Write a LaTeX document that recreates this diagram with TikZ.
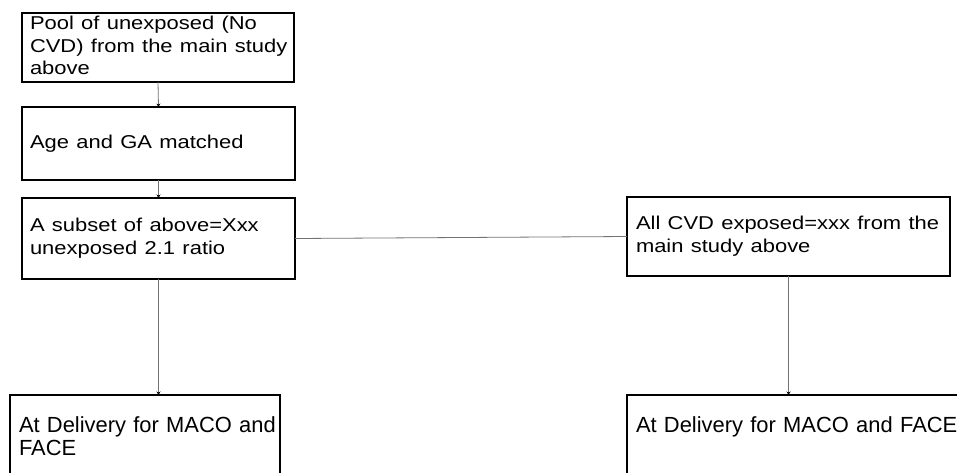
\documentclass[tikz,border=0pt]{standalone}
\usepackage{fontspec}
\usepackage{graphicx}
\setmainfont{Liberation Sans}
\usetikzlibrary{arrows.meta}
% box text: lines kept as in the chart, widened a little
\newcommand{\boxlines}[2]{\scalebox{#1}[1]{\begin{tabular}[t]{@{}l@{}}#2\end{tabular}}}

\begin{document}
\begin{tikzpicture}[x=1pt,y=1pt]
            \tikzstyle{every node}+=[anchor=north west, outer sep=0pt]
            \tikzstyle{upbox}=[draw=black, line width=1.6pt, inner xsep=8pt, inner ysep=0pt, align=left, font=\fontsize{18.6}{22.7}\selectfont]
            \tikzstyle{lowbox}=[draw=black, line width=1.6pt, inner xsep=9pt, inner ysep=21pt, text depth=80pt, align=left, font=\fontsize{21.9}{23}\selectfont]
            \tikzstyle{link}=[draw=black!55, line width=0.8pt]
            \clip (0,0) rectangle (957,-472);
            \node [upbox, text width=256, minimum height=69] (pool) at (22,-13) {\boxlines{1.18}{Pool of unexposed (No\\CVD) from the main study\\above}};
            \node [upbox, text width=257, minimum height=73] (matched) at (22,-107) {\boxlines{1.18}{Age and GA matched}};
            \node [upbox, text width=257, minimum height=81] (subset) at (22,-198) {\boxlines{1.18}{A subset of above=Xxx\\unexposed 2.1 ratio}};
            \node [upbox, text width=305, inner xsep=9pt, minimum height=79] (exposed) at (627,-197) {\boxlines{1.18}{All CVD exposed=xxx from the\\main study above}};
            \node [lowbox, text width=252] (deliveryl) at (10,-395) {\boxlines{1}{At Delivery for MACO and\\FACE}};
            \node [lowbox, text width=332] (deliveryr) at (627,-395) {\boxlines{1}{At Delivery for MACO and FACE}};
            \draw [link, -{Stealth[black, length=3.5pt, width=4pt]}] (pool.south) -- (matched.north);
            \draw [link, -{Stealth[black, length=3.5pt, width=4pt]}] (matched.south) -- (subset.north);
            \draw [link] (subset.east) -- (exposed.west);
            \draw [link, -{Stealth[black, length=3.5pt, width=4pt]}] (subset.south) -- (subset.south |- deliveryl.north);
            \draw [link, -{Stealth[black, length=3.5pt, width=4pt]}] (exposed.south) -- (exposed.south |- deliveryr.north);
        \end{tikzpicture}
\end{document}
